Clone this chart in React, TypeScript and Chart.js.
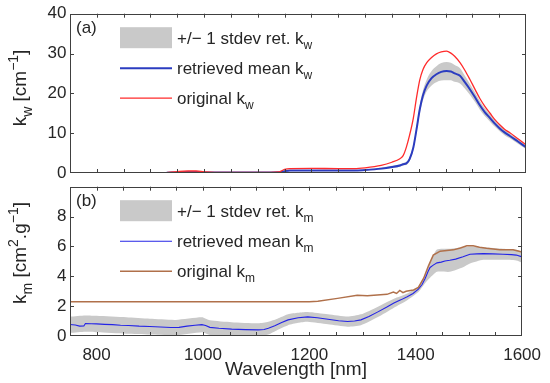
import React, { useEffect, useRef } from 'react';
import { Chart, registerables } from 'chart.js';
Chart.register(...registerables);

const FF = '"Liberation Sans", Arial, Helvetica, sans-serif';
const TXT = '#262626';

// x axis
const xTicks = [800, 1000, 1200, 1400, 1600];
const xMinorTicks = [800, 850, 900, 950, 1000, 1050, 1100, 1150, 1200, 1250, 1300, 1350, 1400, 1450, 1500, 1550];
const yTicksW = [0, 10, 20, 30, 40];
const yTicksM = [0, 2, 4, 6, 8];

// panel (a): water absorption k_w
const wlW = [930, 950, 970, 985, 1000, 1020, 1100, 1140, 1150, 1160, 1200, 1250, 1280, 1300, 1330, 1350, 1365, 1371, 1377, 1383, 1390, 1396, 1402, 1408, 1415, 1424, 1433, 1442, 1452, 1460, 1467, 1477, 1486, 1495, 1505, 1514, 1523, 1533, 1542, 1551, 1560, 1570, 1585, 1600];
const origW = [0.1, 0.35, 0.5, 0.5, 0.3, 0.15, 0.15, 0.3, 0.9, 1.1, 1.15, 1.1, 1.1, 1.3, 1.9, 2.7, 3.6, 4.35, 6.5, 9.5, 13.8, 19.0, 23.4, 26.0, 27.7, 29.0, 29.9, 30.4, 30.6, 30.1, 29.3, 27.7, 25.8, 23.6, 21.0, 18.7, 16.8, 15.0, 13.4, 12.1, 11.0, 10.1, 8.6, 7.1];
const retW = [0.05, 0.15, 0.25, 0.25, 0.15, 0.1, 0.15, 0.2, 0.45, 0.6, 0.62, 0.6, 0.6, 0.75, 1.1, 1.5, 1.9, 2.2, 2.4, 3.5, 6.4, 11.0, 16.0, 19.5, 22.0, 23.8, 24.8, 25.4, 25.6, 25.5, 25.0, 24.4, 22.8, 21.1, 19.0, 17.0, 15.3, 13.8, 12.4, 11.2, 10.2, 9.3, 7.9, 6.5];
const sdW = [0.1, 0.1, 0.1, 0.1, 0.1, 0.1, 0.1, 0.1, 0.15, 0.15, 0.15, 0.15, 0.15, 0.15, 0.25, 0.3, 0.3, 0.3, 0.4, 0.5, 0.6, 0.8, 1.0, 1.3, 1.5, 1.8, 2.0, 2.2, 2.3, 2.2, 2.1, 1.9, 1.6, 1.4, 1.2, 1.1, 1.0, 0.9, 0.8, 0.7, 0.7, 0.6, 0.55, 0.5];

// panel (b): k_m
const wlOrigM = [750, 1200, 1216, 1253, 1290, 1309, 1346, 1358, 1364, 1370, 1376, 1382, 1390, 1396, 1405, 1415, 1424, 1433, 1446, 1471, 1484, 1496, 1508, 1520, 1533, 1558, 1583, 1600];
const origM = [2.3, 2.3, 2.32, 2.52, 2.73, 2.7, 2.79, 2.95, 2.85, 3.05, 2.9, 3.0, 3.05, 3.08, 3.25, 3.87, 4.7, 5.42, 5.68, 5.77, 5.9, 6.04, 6.04, 5.95, 5.87, 5.77, 5.77, 5.62];

const wlRetM = [750, 760, 768, 776, 779, 790, 800, 815, 830, 845, 860, 880, 900, 920, 940, 955, 970, 985, 998, 1005, 1013, 1030, 1054, 1080, 1104, 1115, 1123, 1135, 1148, 1160, 1179, 1197, 1215, 1235, 1255, 1272, 1285, 1297, 1312, 1328, 1345, 1359, 1372, 1384, 1395, 1405, 1412, 1418, 1423, 1427, 1433, 1440, 1448, 1455, 1464, 1475, 1489, 1502, 1515, 1527, 1545, 1564, 1580, 1589, 1600];
const retM = [0.77, 0.74, 0.66, 0.67, 0.84, 0.82, 0.81, 0.78, 0.76, 0.72, 0.70, 0.66, 0.64, 0.60, 0.57, 0.58, 0.66, 0.72, 0.76, 0.70, 0.58, 0.52, 0.46, 0.43, 0.41, 0.44, 0.52, 0.68, 0.90, 1.08, 1.22, 1.28, 1.22, 1.12, 1.02, 0.97, 1.0, 1.08, 1.30, 1.60, 1.92, 2.21, 2.42, 2.63, 2.85, 3.14, 3.45, 3.87, 4.30, 4.59, 4.75, 4.90, 4.95, 5.02, 5.07, 5.15, 5.31, 5.48, 5.50, 5.52, 5.50, 5.48, 5.45, 5.42, 5.30];

const wlBandM = [750, 779, 800, 856, 900, 949, 998, 1013, 1054, 1104, 1123, 1140, 1160, 1179, 1197, 1235, 1272, 1297, 1328, 1359, 1384, 1405, 1418, 1427, 1440, 1464, 1489, 1502, 1527, 1564, 1589, 1600];
const bandHiM = [1.3, 1.38, 1.35, 1.25, 1.15, 1.08, 1.25, 1.05, 0.92, 0.85, 0.95, 1.15, 1.45, 1.55, 1.6, 1.45, 1.3, 1.45, 1.95, 2.5, 2.85, 3.3, 4.1, 4.95, 5.8, 5.85, 5.95, 6.0, 5.95, 5.85, 5.78, 5.65];
const bandLoM = [0.2, 0.28, 0.25, 0.15, 0.1, 0.05, 0.25, 0.07, 0.02, 0.0, 0.1, 0.4, 0.72, 0.88, 0.95, 0.78, 0.62, 0.72, 1.25, 1.9, 2.4, 2.95, 3.55, 3.9, 4.3, 4.3, 4.6, 4.85, 5.1, 5.1, 5.05, 4.9];

const COL_BAND = '#c9c9c9';
const COL_BLUE_W = '#2b3cc0';
const COL_RED = '#ff2b2b';
const COL_BLUE_M = '#2424e6';
const COL_BROWN = '#b0704a';

const TICK_SIZE = 17;
const LEG_SIZE = 17;
const LABEL_SIZE = 19;

type Seg = { t: string; s?: 'sub' | 'sup' };

const pts = (xs: number[], ys: number[]) => xs.map((x, i) => ({ x, y: ys[i] }));

function drawRich(ctx: CanvasRenderingContext2D, segs: Seg[], x: number, y: number, size: number, align: 'left' | 'center') {
  const small = Math.round(size * 0.72);
  const widths = segs.map((sg) => {
    ctx.font = `${sg.s ? small : size}px ${FF}`;
    return ctx.measureText(sg.t).width;
  });
  const total = widths.reduce((a, b) => a + b, 0);
  let cx = align === 'center' ? x - total / 2 : x;
  ctx.textAlign = 'left';
  ctx.textBaseline = 'alphabetic';
  segs.forEach((sg, i) => {
    ctx.font = `${sg.s ? small : size}px ${FF}`;
    const dy = sg.s === 'sub' ? size * 0.32 : sg.s === 'sup' ? -size * 0.42 : 0;
    ctx.fillText(sg.t, cx, y + dy);
    cx += widths[i];
  });
}

type LegendItem = { kind: 'patch' | 'line'; color: string; width?: number; segs: Seg[] };

function makeDecor(opts: {
  id: string;
  tag: string;
  ylabel: Seg[];
  ylabelY: number;
  yTicks: number[];
  legend: LegendItem[];
}) {
  return {
    id: opts.id,
    afterDraw(chart: any) {
      const ctx: CanvasRenderingContext2D = chart.ctx;
      const { left, right, top, bottom } = chart.chartArea;
      const xs = chart.scales.x;
      const ys = chart.scales.y;
      ctx.save();
      // frame
      ctx.strokeStyle = '#404040';
      ctx.lineWidth = 1;
      ctx.strokeRect(Math.round(left) + 0.5, Math.round(top) + 0.5, Math.round(right - left) - 1, Math.round(bottom - top) - 1);
      // x ticks (inward, both sides)
      ctx.beginPath();
      xMinorTicks.forEach((v) => {
        const px = Math.round(xs.getPixelForValue(v)) + 0.5;
        ctx.moveTo(px, bottom);
        ctx.lineTo(px, bottom - 4);
        ctx.moveTo(px, top);
        ctx.lineTo(px, top + 4);
      });
      // y ticks (inward, both sides)
      opts.yTicks.forEach((v) => {
        const py = Math.round(ys.getPixelForValue(v)) + 0.5;
        if (py < top + 2 || py > bottom - 2) return;
        ctx.moveTo(left, py);
        ctx.lineTo(left + 4, py);
        ctx.moveTo(right, py);
        ctx.lineTo(right - 4, py);
      });
      ctx.stroke();

      ctx.fillStyle = TXT;
      // panel tag
      ctx.font = `${LEG_SIZE}px ${FF}`;
      ctx.textAlign = 'left';
      ctx.textBaseline = 'alphabetic';
      ctx.fillText(opts.tag, left + 6, top + 19.5);

      // legend
      const lx0 = 120;
      const lx1 = 172;
      opts.legend.forEach((it, i) => {
        const cy = top + 24 + i * 30;
        if (it.kind === 'patch') {
          ctx.fillStyle = COL_BAND;
          ctx.fillRect(lx0, cy - 10.5, lx1 - lx0, 21);
        } else {
          ctx.strokeStyle = it.color;
          ctx.lineWidth = it.width || 1;
          ctx.beginPath();
          ctx.moveTo(lx0, cy + 0.5);
          ctx.lineTo(lx1, cy + 0.5);
          ctx.stroke();
        }
        ctx.fillStyle = TXT;
        drawRich(ctx, it.segs, 177, cy + 6, LEG_SIZE, 'left');
      });

      // y label
      ctx.save();
      ctx.translate(25.5, opts.ylabelY);
      ctx.rotate(-Math.PI / 2);
      ctx.fillStyle = TXT;
      drawRich(ctx, opts.ylabel, 0, 0, LABEL_SIZE, 'center');
      ctx.restore();
      ctx.restore();
    },
  };
}

function buildTicks(vals: number[]) {
  return (scale: any) => {
    scale.ticks = vals.map((v) => ({ value: v }));
  };
}

const plainLabel = (v: any) => String(v);

export default function App() {
  const topRef = useRef<HTMLCanvasElement>(null);
  const botRef = useRef<HTMLCanvasElement>(null);

  useEffect(() => {
    const upW = retW.map((v, i) => v + sdW[i]);
    const loW = retW.map((v, i) => Math.max(0, v - sdW[i]));

    const tickFont = { family: FF, size: TICK_SIZE };

    const chartTop = new Chart(topRef.current!, {
      type: 'line',
      data: {
        datasets: [
          { data: pts(wlW, origW), borderColor: COL_RED, borderWidth: 1.3, pointRadius: 0, fill: false, cubicInterpolationMode: 'monotone' },
          { data: pts(wlW, retW), borderColor: COL_BLUE_W, borderWidth: 2, pointRadius: 0, fill: false, cubicInterpolationMode: 'monotone' },
          { data: pts(wlW, upW), borderWidth: 0, borderColor: 'rgba(0,0,0,0)', backgroundColor: COL_BAND, pointRadius: 0, fill: '+1', cubicInterpolationMode: 'monotone' },
          { data: pts(wlW, loW), borderWidth: 0, borderColor: 'rgba(0,0,0,0)', pointRadius: 0, fill: false, cubicInterpolationMode: 'monotone' },
        ],
      },
      options: {
        animation: false,
        responsive: false,
        events: [],
        layout: { padding: { top: 10, right: 24, bottom: 17, left: 0 }, autoPadding: false },
        plugins: { legend: { display: false }, tooltip: { enabled: false }, filler: { drawTime: 'beforeDatasetsDraw' } },
        scales: {
          x: { type: 'linear', min: 750, max: 1600, display: false },
          y: {
            type: 'linear',
            min: 0,
            max: 40,
            afterBuildTicks: buildTicks(yTicksW),
            afterFit: (s: any) => { s.width = 70; },
            grid: { display: false, drawTicks: false },
            border: { display: false },
            ticks: { padding: 3.5, font: tickFont, color: TXT, callback: plainLabel },
          },
        },
      } as any,
      plugins: [
        makeDecor({
          id: 'decorTop',
          tag: '(a)',
          ylabel: [{ t: 'k' }, { t: 'w', s: 'sub' }, { t: ' [cm' }, { t: '\u22121', s: 'sup' }, { t: ']' }],
          ylabelY: 88,
          yTicks: yTicksW,
          legend: [
            { kind: 'patch', color: COL_BAND, segs: [{ t: '+/\u2212 1 stdev ret. k' }, { t: 'w', s: 'sub' }] },
            { kind: 'line', color: COL_BLUE_W, width: 2, segs: [{ t: 'retrieved mean k' }, { t: 'w', s: 'sub' }] },
            { kind: 'line', color: COL_RED, width: 1.3, segs: [{ t: 'original k' }, { t: 'w', s: 'sub' }] },
          ],
        }),
      ],
    });

    const chartBot = new Chart(botRef.current!, {
      type: 'line',
      data: {
        datasets: [
          { data: pts(wlOrigM, origM), borderColor: COL_BROWN, borderWidth: 1.5, pointRadius: 0, fill: false, tension: 0 },
          { data: pts(wlRetM, retM), borderColor: COL_BLUE_M, borderWidth: 1.1, pointRadius: 0, fill: false, tension: 0 },
          { data: pts(wlBandM, bandHiM), borderWidth: 0, borderColor: 'rgba(0,0,0,0)', backgroundColor: COL_BAND, pointRadius: 0, fill: '+1', tension: 0.2 },
          { data: pts(wlBandM, bandLoM), borderWidth: 0, borderColor: 'rgba(0,0,0,0)', pointRadius: 0, fill: false, tension: 0.2 },
        ],
      },
      options: {
        animation: false,
        responsive: false,
        events: [],
        layout: { padding: { top: 0, right: 24, bottom: 0, left: 0 }, autoPadding: false },
        plugins: { legend: { display: false }, tooltip: { enabled: false }, filler: { drawTime: 'beforeDatasetsDraw' } },
        scales: {
          x: {
            type: 'linear',
            min: 750,
            max: 1600,
            afterBuildTicks: buildTicks(xTicks),
            afterFit: (s: any) => { s.height = 47; },
            grid: { display: false, drawTicks: false },
            border: { display: false },
            ticks: { padding: 9, font: tickFont, color: TXT, maxRotation: 0, autoSkip: false, callback: plainLabel },
            title: { display: true, text: 'Wavelength [nm]', color: TXT, font: { family: FF, size: LABEL_SIZE }, padding: { top: 0, bottom: 2 } },
          },
          y: {
            type: 'linear',
            min: 0,
            max: 10,
            afterBuildTicks: buildTicks(yTicksM),
            afterFit: (s: any) => { s.width = 70; },
            grid: { display: false, drawTicks: false },
            border: { display: false },
            ticks: { padding: 3.5, font: tickFont, color: TXT, callback: plainLabel },
          },
        },
      } as any,
      plugins: [
        makeDecor({
          id: 'decorBot',
          tag: '(b)',
          ylabel: [{ t: 'k' }, { t: 'm', s: 'sub' }, { t: ' [cm' }, { t: '2', s: 'sup' }, { t: '.g' }, { t: '\u22121', s: 'sup' }, { t: ']' }],
          ylabelY: 80,
          yTicks: yTicksM,
          legend: [
            { kind: 'patch', color: COL_BAND, segs: [{ t: '+/\u2212 1 stdev ret. k' }, { t: 'm', s: 'sub' }] },
            { kind: 'line', color: COL_BLUE_M, width: 1.1, segs: [{ t: 'retrieved mean k' }, { t: 'm', s: 'sub' }] },
            { kind: 'line', color: COL_BROWN, width: 1.5, segs: [{ t: 'original k' }, { t: 'm', s: 'sub' }] },
          ],
        }),
      ],
    });

    return () => {
      chartTop.destroy();
      chartBot.destroy();
    };
  }, []);

  return (
    <div style={{ position: 'absolute', left: 0, top: 0, width: 550, height: 383, background: '#fff' }}>
      <canvas ref={topRef} width={550} height={190} style={{ position: 'absolute', left: 0, top: 0, width: 550, height: 190 }} />
      <canvas ref={botRef} width={550} height={210} style={{ position: 'absolute', left: 0, top: 173, width: 550, height: 210 }} />
    </div>
  );
}
